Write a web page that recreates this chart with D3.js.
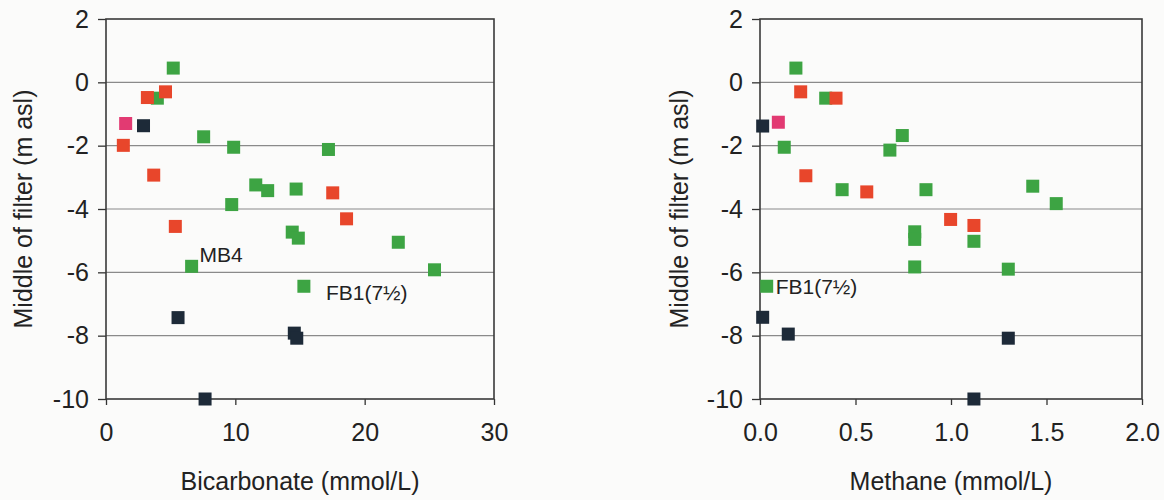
<!DOCTYPE html>
<html>
<head>
<meta charset="utf-8">
<script src="https://cdn.jsdelivr.net/npm/d3@7/dist/d3.min.js"></script>
<style>
  html, body { margin: 0; padding: 0; background: #fbfbfa; }
  svg { display: block; }
  text { font-family: "Liberation Sans", Arial, sans-serif; fill: #222; }
</style>
</head>
<body>
<svg id="chart" width="1164" height="500"></svg>
<script>
// Depth of filter midpoint (m asl) against bicarbonate concentration (mmol/L)
const bicarbGreenX = [5.2, 3.97, 7.55, 9.87, 17.2, 11.58, 12.5, 14.7, 9.72, 14.4, 14.87, 22.6, 25.4, 6.62, 15.3];
const bicarbGreenY = [0.45, -0.5, -1.72, -2.05, -2.12, -3.24, -3.42, -3.37, -3.86, -4.73, -4.92, -5.05, -5.92, -5.81, -6.44];
const bicarbRedX = [3.2, 4.6, 1.34, 3.69, 17.53, 18.6, 5.36];
const bicarbRedY = [-0.48, -0.3, -1.99, -2.93, -3.49, -4.31, -4.55];
const bicarbPinkX = [1.52];
const bicarbPinkY = [-1.3];
const bicarbNavyX = [2.9, 5.57, 14.56, 14.75, 7.66];
const bicarbNavyY = [-1.37, -7.43, -7.92, -8.08, -10];

// Depth of filter midpoint (m asl) against methane concentration (mmol/L)
const methGreenX = [0.188, 0.344, 0.127, 0.68, 0.745, 0.43, 0.869, 1.428, 1.551, 0.81, 0.81, 1.12, 0.81, 1.30, 0.035];
const methGreenY = [0.45, -0.5, -2.05, -2.14, -1.68, -3.39, -3.39, -3.28, -3.83, -4.72, -4.96, -5.02, -5.83, -5.9, -6.44];
const methRedX = [0.213, 0.398, 0.24, 0.559, 0.998, 1.12];
const methRedY = [-0.3, -0.5, -2.95, -3.46, -4.33, -4.52];
const methPinkX = [0.096];
const methPinkY = [-1.26];
const methNavyX = [0.014, 0.014, 0.148, 1.30, 1.12];
const methNavyY = [-1.38, -7.42, -7.95, -8.08, -10];

const yTicks = [2, 0, -2, -4, -6, -8, -10];
const bicarbTicks = [0, 10, 20, 30];
const methTicks = [0, 0.5, 1.0, 1.5, 2.0];

const yTitle = "Middle of filter (m asl)";
const bicarbTitle = "Bicarbonate (mmol/L)";
const methTitle = "Methane (mmol/L)";

// Point labels, placed next to the marker they name
const bicarbLabels = [
  { x: 6.62, y: -5.81, text: "MB4", dx: 8, dy: -4 },
  { x: 15.3, y: -6.44, text: "FB1(7½)", dx: 22, dy: 14 }
];
const methLabels = [
  { x: 0.035, y: -6.44, text: "FB1(7½)", dx: 9, dy: 8 }
];

const colors = { green: "#3da443", red: "#e8462b", pink: "#e23a72", navy: "#1d2a38" };

// plain hyphen-minus for negative tick values
const hyphen = f => v => f(v).replace("\u2212", "-");

const svg = d3.select("#chart");

function zip(xs, ys) { return xs.map((x, i) => ({ x, y: ys[i] })); }

function panel(opts) {
  const { left, right, top, bottom, xDomain, xTicks, xFormat, xTitle, yTitleX, series, labels } = opts;
  const x = d3.scaleLinear().domain(xDomain).range([left, right]);
  const y = d3.scaleLinear().domain([-10, 2]).range([bottom, top]);
  const g = svg.append("g");

  // horizontal gridlines
  g.append("g").selectAll("line").data(yTicks.filter(t => t !== 2 && t !== -10)).join("line")
    .attr("x1", left).attr("x2", right)
    .attr("y1", d => y(d)).attr("y2", d => y(d))
    .attr("stroke", "#8a8a8a").attr("stroke-width", 1.2);

  // axes
  const yAxis = d3.axisLeft(y).tickValues(yTicks).tickSize(8).tickPadding(9).tickFormat(hyphen(d3.format("d")));
  const ya = g.append("g").attr("transform", `translate(${left},0)`).call(yAxis);
  const xAxis = d3.axisBottom(x).tickValues(xTicks).tickSize(6).tickPadding(18).tickFormat(xFormat);
  const xa = g.append("g").attr("transform", `translate(0,${bottom})`).call(xAxis);
  [ya, xa].forEach(a => {
    a.select(".domain").remove();
    a.selectAll(".tick line").attr("stroke", "#333").attr("stroke-width", 1.3);
    a.selectAll(".tick text").style("font-size", "25px").style("fill", "#222")
      .attr("font-family", "Liberation Sans, Arial, sans-serif");
  });

  // plot frame
  g.append("rect")
    .attr("x", left).attr("y", top)
    .attr("width", right - left).attr("height", bottom - top)
    .attr("fill", "none").attr("stroke", "#3a3a3a").attr("stroke-width", 1.6);

  // markers
  const s = 13;
  series.forEach(ser => {
    g.append("g").selectAll("rect").data(ser.points).join("rect")
      .attr("x", d => x(d.x) - s / 2).attr("y", d => y(d.y) - s / 2)
      .attr("width", s).attr("height", s)
      .attr("fill", ser.color);
  });

  // point labels
  g.append("g").selectAll("text").data(labels).join("text")
    .attr("x", d => x(d.x) + d.dx).attr("y", d => y(d.y) + d.dy)
    .style("font-size", "21px")
    .text(d => d.text);

  // axis titles
  g.append("text")
    .attr("x", (left + right) / 2).attr("y", 490)
    .attr("text-anchor", "middle").style("font-size", "25px")
    .text(xTitle);
  g.append("text")
    .attr("transform", `translate(${yTitleX},${(top + bottom) / 2}) rotate(-90)`)
    .attr("text-anchor", "middle").attr("dy", "0.35em").style("font-size", "25px")
    .text(yTitle);
}

panel({
  left: 106, right: 494, top: 19, bottom: 399,
  xDomain: [0, 30], xTicks: bicarbTicks, xFormat: d3.format("d"),
  xTitle: bicarbTitle, yTitleX: 23,
  series: [
    { color: colors.green, points: zip(bicarbGreenX, bicarbGreenY) },
    { color: colors.red, points: zip(bicarbRedX, bicarbRedY) },
    { color: colors.pink, points: zip(bicarbPinkX, bicarbPinkY) },
    { color: colors.navy, points: zip(bicarbNavyX, bicarbNavyY) }
  ],
  labels: bicarbLabels
});

panel({
  left: 760, right: 1142, top: 19, bottom: 399,
  xDomain: [0, 2], xTicks: methTicks, xFormat: d3.format(".1f"),
  xTitle: methTitle, yTitleX: 679,
  series: [
    { color: colors.green, points: zip(methGreenX, methGreenY) },
    { color: colors.red, points: zip(methRedX, methRedY) },
    { color: colors.pink, points: zip(methPinkX, methPinkY) },
    { color: colors.navy, points: zip(methNavyX, methNavyY) }
  ],
  labels: methLabels
});
</script>
</body>
</html>
